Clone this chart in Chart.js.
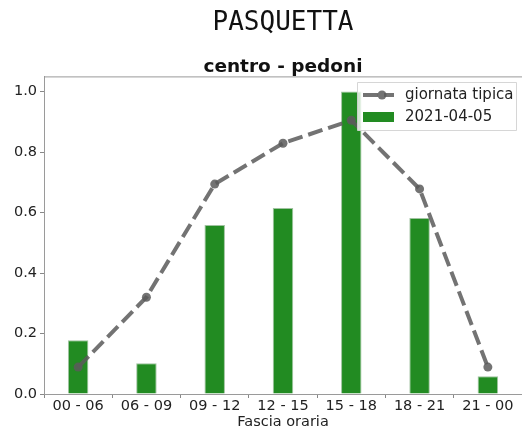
<!DOCTYPE html>
<html>
<head>
    <title>PASQUETTA</title>
    <script src="https://cdn.jsdelivr.net/npm/chart.js@4.4.1/dist/chart.umd.min.js"></script>
    <style>
        body { margin: 0; background: #fff; }
        #wrap { width: 522px; height: 428px; }
    </style>
</head>
<body>
    <div id="wrap"><canvas id="chart" width="522" height="428"></canvas></div>

    <script>
        // Data
        var fasce = ['00 - 06', '06 - 09', '09 - 12', '12 - 15', '15 - 18', '18 - 21', '21 - 00'];
        var giornataTipica = [0.089, 0.32, 0.694, 0.829, 0.905, 0.678, 0.089];
        var pasquetta = [0.178, 0.102, 0.559, 0.615, 1.0, 0.582, 0.059];
        var yTicks = [0.0, 0.2, 0.4, 0.6, 0.8, 1.0];

        var lineColor = 'rgba(90,90,90,0.85)';
        var barColor = '#228b22';
        var font = 'DejaVu Sans';

        // Top frame line and matplotlib-like legend box
        var extras = {
            id: 'extras',
            afterDraw: function (chart) {
                var ctx = chart.ctx;
                var a = chart.chartArea;
                ctx.save();
                ctx.strokeStyle = '#9a9a9a';
                ctx.lineWidth = 1;
                ctx.beginPath();
                ctx.moveTo(a.left, a.top + 0.5);
                ctx.lineTo(a.right, a.top + 0.5);
                ctx.stroke();

                // legend
                var x = 357, y = 82, w = 159, h = 48;
                ctx.fillStyle = 'rgba(255,255,255,0.8)';
                ctx.strokeStyle = 'rgba(210,210,210,0.9)';
                ctx.beginPath();
                ctx.rect(x + 0.5, y + 0.5, w, h);
                ctx.fill();
                ctx.stroke();

                ctx.strokeStyle = lineColor;
                ctx.lineWidth = 4;
                ctx.setLineDash([15, 6]);
                ctx.beginPath();
                ctx.moveTo(363, 95);
                ctx.lineTo(394, 95);
                ctx.stroke();
                ctx.setLineDash([]);
                ctx.fillStyle = lineColor;
                ctx.beginPath();
                ctx.arc(382, 95, 4.5, 0, Math.PI * 2);
                ctx.fill();

                ctx.fillStyle = barColor;
                ctx.fillRect(363, 112, 31, 10);

                ctx.fillStyle = '#222';
                ctx.font = '15px "' + font + '"';
                ctx.textBaseline = 'middle';
                ctx.textAlign = 'left';
                ctx.fillText(chart.data.datasets[0].label, 405, 95);
                ctx.fillText(chart.data.datasets[1].label, 405, 117);
                ctx.restore();
            }
        };

        var ctx = document.getElementById('chart').getContext('2d');
        new Chart(ctx, {
            data: {
                labels: fasce,
                datasets: [{
                    type: 'line',
                    label: 'giornata tipica',
                    data: giornataTipica,
                    borderColor: lineColor,
                    backgroundColor: lineColor,
                    borderWidth: 4,
                    borderDash: [15, 6],
                    pointRadius: 4.5,
                    pointBorderWidth: 0,
                    tension: 0,
                    order: 0
                }, {
                    type: 'bar',
                    label: '2021-04-05',
                    data: pasquetta,
                    backgroundColor: barColor,
                    borderColor: 'rgba(120,170,120,0.7)',
                    borderWidth: 1,
                    categoryPercentage: 1,
                    barPercentage: 0.3,
                    order: 1
                }]
            },
            options: {
                responsive: false,
                animation: false,
                layout: { padding: 0, autoPadding: false },
                plugins: {
                    legend: { display: false },
                    tooltip: { enabled: false },
                    title: {
                        display: true,
                        fullSize: false,
                        text: 'PASQUETTA',
                        color: '#111',
                        font: { family: 'DejaVu Sans Mono', size: 26, weight: 'normal', lineHeight: 1.2 },
                        padding: { top: 8, bottom: 17 }
                    },
                    subtitle: {
                        display: true,
                        fullSize: false,
                        text: 'centro - pedoni',
                        color: '#111',
                        font: { family: font, size: 18.5, weight: 'bold', lineHeight: 1.2 },
                        padding: { top: 0, bottom: -2 }
                    }
                },
                scales: {
                    x: {
                        offset: true,
                        grid: { display: true, drawOnChartArea: false, drawTicks: true, tickLength: 4, color: '#888' },
                        border: { display: true, color: '#9a9a9a' },
                        ticks: { color: '#222', font: { family: font, size: 14.5 }, padding: 0, maxRotation: 0, autoSkip: false },
                        title: { display: true, text: 'Fascia oraria', color: '#222', font: { family: font, size: 14.5, lineHeight: 1 }, padding: { top: 0, bottom: -1 } },
                        afterFit: function (s) {
                            s.height = 34;
                            s.paddingLeft = 0;
                            s.paddingRight = 0;
                        }
                    },
                    y: {
                        min: 0,
                        max: 1.05,
                        afterBuildTicks: function (s) {
                            s.ticks = yTicks.map(function (v) { return { value: v }; });
                        },
                        grid: { display: true, drawOnChartArea: false, drawTicks: true, tickLength: 4, color: '#888' },
                        border: { display: true, color: '#9a9a9a' },
                        ticks: {
                            color: '#222',
                            font: { family: font, size: 14.5 },
                            padding: 3,
                            callback: function (v) { return Number(v).toFixed(1); }
                        },
                        afterFit: function (s) {
                            s.width = 44;
                            s.paddingTop = 0;
                            s.paddingBottom = 0;
                        }
                    }
                }
            },
            plugins: [extras]
        });
    </script>
</body>
</html>
